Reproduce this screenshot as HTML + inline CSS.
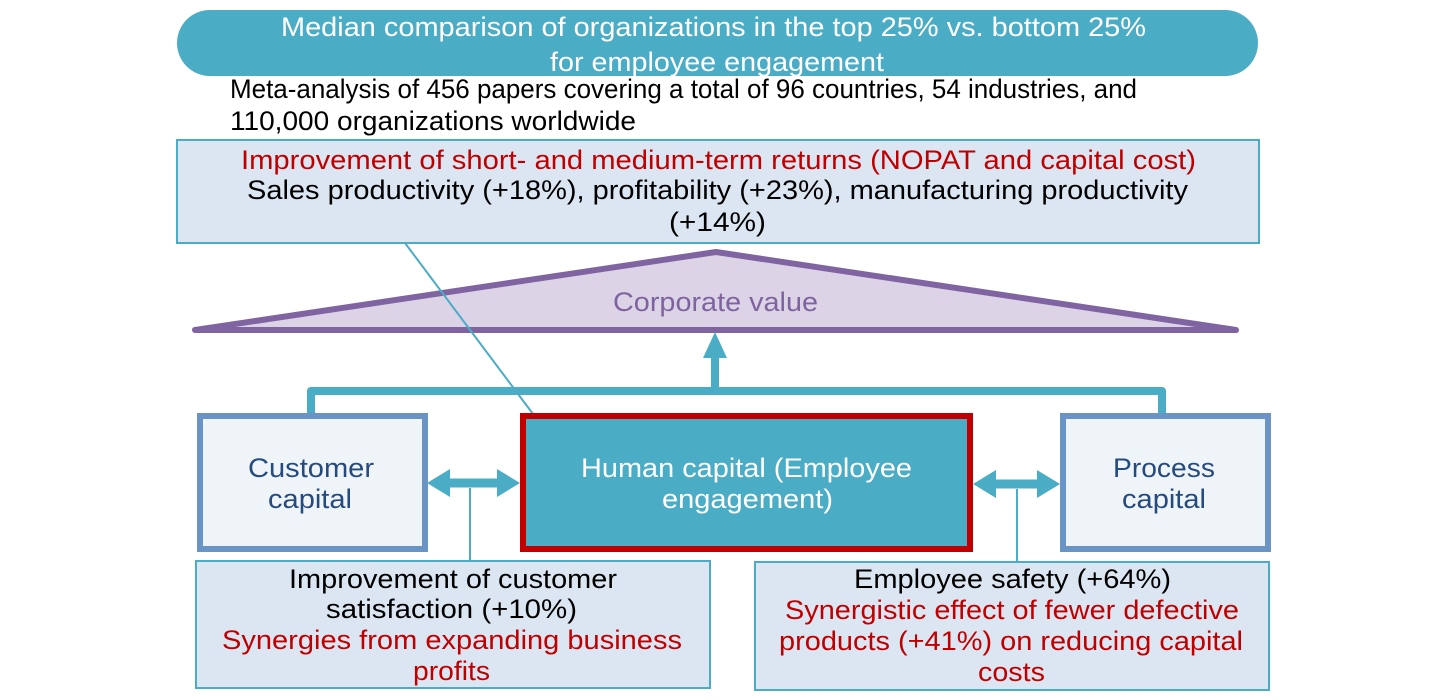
<!DOCTYPE html>
<html><head><meta charset="utf-8"><style>
html,body{margin:0;padding:0;background:#fff;}
svg{display:block;font-family:"Liberation Sans",Arial,sans-serif;}
</style></head><body>
<svg width="1440" height="700" viewBox="0 0 1440 700" xmlns="http://www.w3.org/2000/svg">
<g font-size="27">
<rect x="177" y="10" width="1081" height="66" rx="33" fill="#4BACC6"/>
<text x="713.5" y="36" fill="#fff" text-anchor="middle" textLength="865" lengthAdjust="spacingAndGlyphs">Median comparison of organizations in the top 25% vs. bottom 25%</text>
<text x="717" y="71" fill="#fff" text-anchor="middle" textLength="334" lengthAdjust="spacingAndGlyphs">for employee engagement</text>
<text x="230" y="98" fill="#000" textLength="907" lengthAdjust="spacingAndGlyphs">Meta-analysis of 456 papers covering a total of 96 countries, 54 industries, and</text>
<text x="230" y="130" fill="#000" textLength="406" lengthAdjust="spacingAndGlyphs">110,000 organizations worldwide</text>
<rect x="177" y="140" width="1082" height="103" fill="#DCE6F2" stroke="#4BACC6" stroke-width="2"/>
<text x="718.5" y="169" fill="#C00000" text-anchor="middle" textLength="955" lengthAdjust="spacingAndGlyphs">Improvement of short- and medium-term returns (NOPAT and capital cost)</text>
<text x="717.5" y="199" fill="#000" text-anchor="middle" textLength="941" lengthAdjust="spacingAndGlyphs">Sales productivity (+18%), profitability (+23%), manufacturing productivity</text>
<text x="717.5" y="231" fill="#000" text-anchor="middle" textLength="97" lengthAdjust="spacingAndGlyphs">(+14%)</text>
<polygon points="195,330 716,252 1236,330" fill="#DCD3E6" stroke="#8064A2" stroke-width="6" stroke-linejoin="round"/>
<text x="715.5" y="311" fill="#7F63A1" text-anchor="middle" textLength="205" lengthAdjust="spacingAndGlyphs">Corporate value</text>
<line x1="405" y1="243" x2="533" y2="414" stroke="#4BACC6" stroke-width="2"/>
<polyline points="311,414 311,391 1162,391 1162,414" fill="none" stroke="#4BACC6" stroke-width="8" stroke-linejoin="round"/>
<line x1="715" y1="391" x2="715" y2="355" stroke="#4BACC6" stroke-width="8"/>
<polygon points="715,332 703,358 727,358" fill="#4BACC6"/>
<rect x="200" y="416" width="225" height="133" fill="#EFF4F9" stroke="#6A93C6" stroke-width="6"/>
<text x="311" y="477" fill="#254A7E" text-anchor="middle" textLength="126" lengthAdjust="spacingAndGlyphs">Customer</text>
<text x="310" y="508" fill="#254A7E" text-anchor="middle" textLength="84" lengthAdjust="spacingAndGlyphs">capital</text>
<rect x="523" y="416" width="447" height="133" fill="#4BACC6" stroke="#C00000" stroke-width="6"/>
<text x="746.5" y="477" fill="#fff" text-anchor="middle" textLength="331" lengthAdjust="spacingAndGlyphs">Human capital (Employee</text>
<text x="747.5" y="508" fill="#fff" text-anchor="middle" textLength="171" lengthAdjust="spacingAndGlyphs">engagement)</text>
<rect x="1063" y="416" width="205" height="133" fill="#EFF4F9" stroke="#6A93C6" stroke-width="6"/>
<text x="1164" y="477" fill="#254A7E" text-anchor="middle" textLength="102" lengthAdjust="spacingAndGlyphs">Process</text>
<text x="1164" y="508" fill="#254A7E" text-anchor="middle" textLength="84" lengthAdjust="spacingAndGlyphs">capital</text>
<polygon points="427,483 450,469 450,478.5 497,478.5 497,469 520,483 497,497 497,487.5 450,487.5 450,497" fill="#4BACC6"/>
<polygon points="973,484 996,470 996,479.5 1037,479.5 1037,470 1060,484 1037,498 1037,488.5 996,488.5 996,498" fill="#4BACC6"/>
<line x1="470" y1="488" x2="470" y2="561" stroke="#4BACC6" stroke-width="2"/>
<line x1="1017" y1="489" x2="1017" y2="562" stroke="#4BACC6" stroke-width="2"/>
<rect x="196" y="561" width="514" height="127" fill="#DCE6F2" stroke="#4BACC6" stroke-width="2"/>
<text x="453" y="588" fill="#000" text-anchor="middle" textLength="328" lengthAdjust="spacingAndGlyphs">Improvement of customer</text>
<text x="451.5" y="618" fill="#000" text-anchor="middle" textLength="251" lengthAdjust="spacingAndGlyphs">satisfaction (+10%)</text>
<text x="452" y="649" fill="#C00000" text-anchor="middle" textLength="460" lengthAdjust="spacingAndGlyphs">Synergies from expanding business</text>
<text x="451.5" y="680" fill="#C00000" text-anchor="middle" textLength="77" lengthAdjust="spacingAndGlyphs">profits</text>
<rect x="755" y="562" width="514" height="128" fill="#DCE6F2" stroke="#4BACC6" stroke-width="2"/>
<text x="1012.5" y="588" fill="#000" text-anchor="middle" textLength="317" lengthAdjust="spacingAndGlyphs">Employee safety (+64%)</text>
<text x="1012" y="619" fill="#C00000" text-anchor="middle" textLength="454" lengthAdjust="spacingAndGlyphs">Synergistic effect of fewer defective</text>
<text x="1011" y="650" fill="#C00000" text-anchor="middle" textLength="464" lengthAdjust="spacingAndGlyphs">products (+41%) on reducing capital</text>
<text x="1011.5" y="681" fill="#C00000" text-anchor="middle" textLength="67" lengthAdjust="spacingAndGlyphs">costs</text>
</g>
</svg>
</body></html>
